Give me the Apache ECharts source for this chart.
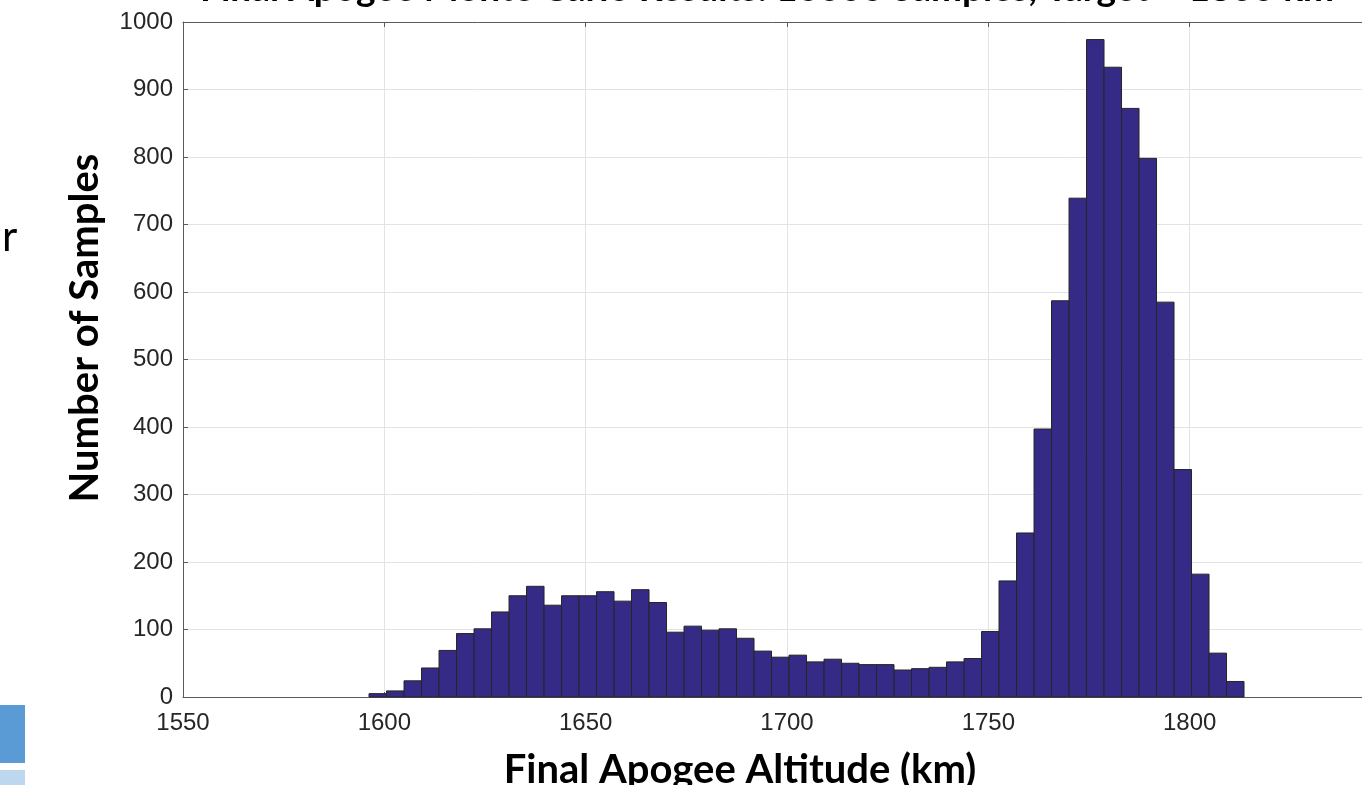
<!DOCTYPE html>
<html>
<head>
<meta charset="utf-8">
<script src="https://cdn.jsdelivr.net/npm/echarts@6/dist/echarts.min.js"></script>
<style>
  html, body { margin: 0; padding: 0; background: #ffffff; }
  #chart { width: 1362px; height: 785px; }
</style>
</head>
<body>
<div id="chart"></div>
<script>
// Histogram of final apogee altitude (km), 50 bins
const binStart = 1596.2;
const binWidth = 4.346;
const counts = [
  5, 9, 24, 43, 69, 94, 101, 126, 150, 164,
  136, 150, 150, 156, 142, 159, 140, 96, 105, 99,
  101, 87, 68, 59, 62, 52, 56, 50, 48, 48,
  40, 42, 44, 52, 57, 97, 172, 243, 397, 587,
  739, 974, 933, 872, 798, 585, 337, 182, 65, 23
];
const xTicks = [1550, 1600, 1650, 1700, 1750, 1800];
const yTicks = [0, 100, 200, 300, 400, 500, 600, 700, 800, 900, 1000];
const titleText = 'Final Apogee Monte Carlo Results: 10000 Samples, Target = 1800 km';
const xName = 'Final Apogee Altitude (km)';
const yName = 'Number of Samples';

const histData = counts.map((c, i) => [binStart + i * binWidth, binStart + (i + 1) * binWidth, c]);

const chart = echarts.init(document.getElementById('chart'), null, { renderer: 'canvas' });

const axisGray = '#5a5a5a';
const labelColor = '#262626';
const gridColor = '#e3e3e3';

chart.setOption({
  animation: false,
  backgroundColor: '#ffffff',
  grid: { left: 183, top: 22, right: 0, bottom: 88, containLabel: false, outerBoundsMode: 'none' },
  xAxis: [{
    type: 'value',
    min: 1550,
    max: 1842.8,
    interval: 50,
    axisLine: { show: true, lineStyle: { color: axisGray, width: 1 } },
    axisTick: { show: true, inside: true, length: 5, lineStyle: { color: axisGray } },
    axisLabel: {
      show: true, margin: 14, fontFamily: 'Liberation Sans', fontSize: 24, color: labelColor,
      showMaxLabel: false,
      formatter: v => (xTicks.indexOf(v) >= 0 ? String(v) : '')
    },
    splitLine: { show: true, lineStyle: { color: gridColor, width: 1 } }
  }, {
    type: 'value',
    position: 'top',
    min: 1550,
    max: 1842.8,
    interval: 50,
    axisLine: { show: true, onZero: false, lineStyle: { color: axisGray, width: 1 } },
    axisTick: { show: true, inside: true, length: 5, lineStyle: { color: axisGray } },
    axisLabel: { show: false },
    splitLine: { show: false }
  }],
  yAxis: {
    type: 'value',
    min: 0,
    max: 1000,
    interval: 100,
    axisLine: { show: true, lineStyle: { color: axisGray, width: 1 } },
    axisTick: { show: true, inside: true, length: 5, lineStyle: { color: axisGray } },
    axisLabel: {
      margin: 10, fontFamily: 'Liberation Sans', fontSize: 24, color: labelColor,
      formatter: v => (yTicks.indexOf(v) >= 0 ? String(v) : '')
    },
    splitLine: { show: true, lineStyle: { color: gridColor, width: 1 } }
  },
  series: [{
    type: 'custom',
    xAxisIndex: 0,
    yAxisIndex: 0,
    data: histData,
    renderItem: function (params, api) {
      const p0 = api.coord([api.value(0), api.value(2)]);
      const p1 = api.coord([api.value(1), 0]);
      return {
        type: 'rect',
        shape: { x: p0[0], y: p0[1], width: p1[0] - p0[0], height: p1[1] - p0[1] },
        style: { fill: '#352a86', stroke: '#262626', lineWidth: 1 }
      };
    }
  }],
  graphic: [
    {
      type: 'text', x: 767, y: 8,
      style: { text: titleText, font: 'bold 37px Lato', fill: '#000', align: 'center', verticalAlign: 'bottom' }
    },
    {
      type: 'text', x: 740, y: 770,
      style: { text: xName, font: 'bold 40px Lato', fill: '#000', align: 'center', verticalAlign: 'middle' }
    },
    {
      type: 'text', x: 85, y: 328, rotation: Math.PI / 2,
      style: { text: yName, font: 'bold 40px Lato', fill: '#000', align: 'center', verticalAlign: 'middle' }
    },
    {
      type: 'text', x: 2, y: 258,
      style: { text: 'r', font: '42px Lato', fill: '#000', verticalAlign: 'bottom' }
    },
    { type: 'rect', shape: { x: 0, y: 705, width: 25, height: 58 }, style: { fill: '#5b9bd5' } },
    { type: 'rect', shape: { x: 0, y: 770, width: 25, height: 15 }, style: { fill: '#bdd7ee' } }
  ]
});
</script>
</body>
</html>
